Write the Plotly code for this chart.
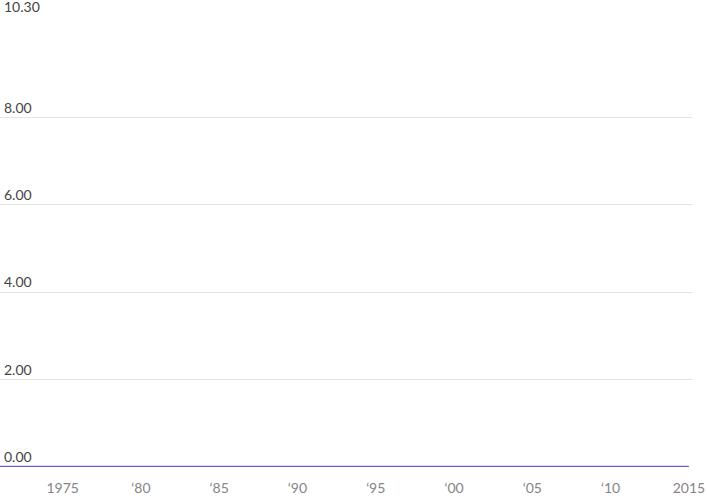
import plotly.graph_objects as go

# yearly series (all values sit at zero)
years = list(range(1971, 2016))
values = [0.0] * len(years)

x_ticks = [1975, 1980, 1985, 1990, 1995, 2000, 2005, 2010, 2015]
x_labels = ["1975", "\u201880", "\u201885", "\u201890", "\u201895", "\u201800", "\u201805", "\u201810", "2015"]
y_ticks = [0, 2, 4, 6, 8, 10.3]
y_labels = ["0.00", "2.00", "4.00", "6.00", "8.00", "10.30"]

fig = go.Figure()
fig.add_trace(go.Scatter(x=years, y=values, mode="lines",
                         line=dict(color="#6a5fcc", width=2.5),
                         cliponaxis=False, hoverinfo="skip"))

fig.update_layout(
    width=707, height=496,
    margin=dict(l=0, r=15, t=17, b=29),
    paper_bgcolor="white", plot_bgcolor="white",
    showlegend=False,
    font=dict(family="Lato", size=14, color="#858585"),
    xaxis=dict(range=[1971, 2015.2], tickmode="array", tickvals=x_ticks, ticktext=x_labels,
               showgrid=False, zeroline=False, showline=False, ticks="",
               ticklabelstandoff=11, automargin=False),
    yaxis=dict(range=[0, 10.3], tickmode="array", tickvals=y_ticks, ticktext=y_labels,
               showgrid=True, gridcolor="#e3e3e3", gridwidth=1, zeroline=False,
               ticklabelposition="inside top", ticklabeloverflow="allow",
               ticks="", ticklabelstandoff=1, automargin=False),
)

# page body has a default 8px margin; drop it so the figure fills the window
fig.write_html("out.html", config={"displayModeBar": False},
               post_script="document.body.style.margin='0px';")
